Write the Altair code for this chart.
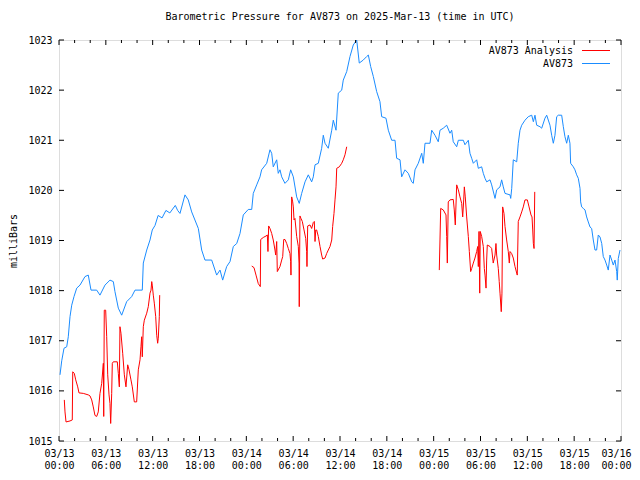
import altair as alt
import pandas as pd

# ---------------- data (hours after 2025-03-13 00:00 UTC, millibars) ----------------
blue_t = [0.13,0.35,0.64,0.99,1.19,1.41,1.63,1.92,2.27,2.69,
          3.33,3.75,4.10,4.83,5.25,5.89,6.53,6.96,7.17,7.60,
          8.03,8.67,9.31,9.74,10.67,10.80,11.24,11.66,11.95,12.3,
          12.7,13.2,13.7,14.2,14.9,15.2,15.50,16.14,16.56,17.0,
          17.85,18.28,18.70,19.56,20.2,20.63,20.97,21.48,21.91,22.33,
          22.77,23.19,23.61,24.25,24.69,24.89,25.33,25.75,25.96,26.61,
          27.03,27.25,27.45,27.89,28.09,28.31,28.53,28.95,29.38,29.68,
          30.02,30.45,30.78,31.09,31.52,31.94,32.37,32.58,32.80,33.22,
          33.65,33.86,34.08,34.50,34.94,35.14,35.49,35.78,36.22,36.42,
          36.86,37.28,37.70,38.14,38.47,38.98,39.42,39.63,39.93,40.27,
          40.70,41.12,41.34,41.89,42.19,42.62,43.05,43.26,43.69,43.90,
          44.33,44.75,45.19,45.39,45.61,46.03,46.47,46.67,46.89,47.53,
          47.75,48.17,48.59,48.81,49.23,49.67,50.09,50.31,50.51,50.95,
          51.16,51.80,52.01,52.44,52.65,52.87,53.08,53.51,53.72,54.15,
          54.36,54.58,54.79,55.22,55.43,55.86,56.07,56.50,56.71,56.92,
          57.14,57.78,57.87,58.0,58.20,58.64,58.84,59.06,59.28,59.70,
          60.12,60.56,60.77,60.98,61.20,61.62,61.84,62.26,62.48,62.90,
          63.12,63.33,63.54,63.76,63.97,64.40,64.61,64.82,65.04,65.25,
          65.46,65.55,65.89,66.10,66.32,66.53,66.75,66.83,66.96,67.17,
          67.39,67.60,67.81,68.03,68.24,68.45,68.67,68.88,69.09,69.31,
          69.53,69.73,69.95,70.17,70.37,70.59,70.81,71.01,71.23,71.45,
          71.52,71.65,71.87]
blue_p = [1016.32,1016.6,1016.85,1016.88,1017.08,1017.48,1017.71,1017.88,1018.05,1018.11,
          1018.28,1018.31,1018.01,1018.01,1017.91,1018.11,1018.21,1018.18,1017.98,1017.65,
          1017.51,1017.78,1017.88,1018.01,1018.01,1018.55,1018.81,1019.01,1019.21,1019.3,
          1019.5,1019.45,1019.6,1019.55,1019.7,1019.6,1019.54,1019.91,1019.81,1019.57,
          1019.24,1018.81,1018.61,1018.61,1018.31,1018.41,1018.21,1018.48,1018.58,1018.88,
          1018.94,1019.14,1019.51,1019.62,1019.62,1019.94,1020.11,1020.27,1020.41,1020.54,
          1020.81,1020.74,1020.47,1020.61,1020.34,1020.41,1020.27,1020.14,1020.21,1020.41,
          1020.27,1019.87,1019.74,1019.94,1020.17,1020.31,1020.17,1020.27,1020.51,1020.54,
          1020.84,1021.10,1020.94,1020.84,1021.20,1021.40,1021.20,1021.94,1022.0,1022.20,
          1022.37,1022.67,1022.90,1023.0,1022.54,1022.60,1022.67,1022.70,1022.47,1022.27,
          1021.97,1021.77,1021.47,1021.44,1021.20,1021.00,1021.00,1020.64,1020.61,1020.27,
          1020.41,1020.34,1020.17,1020.14,1020.41,1020.54,1020.74,1020.54,1020.94,1020.94,
          1021.20,1021.10,1020.97,1021.20,1021.24,1021.30,1021.14,1021.20,1020.97,1020.87,
          1021.0,1021.0,1020.91,1021.0,1020.74,1020.64,1020.54,1020.61,1020.44,1020.47,
          1020.34,1020.24,1020.17,1020.21,1020.11,1019.84,1020.01,1020.07,1020.21,1020.07,
          1019.94,1019.91,1019.84,1020.04,1020.61,1020.57,1020.94,1021.20,1021.30,1021.40,
          1021.47,1021.50,1021.37,1021.50,1021.30,1021.27,1021.24,1021.44,1021.50,1021.30,
          1021.10,1020.94,1021.10,1021.47,1021.50,1021.50,1021.27,1021.07,1020.94,1021.10,
          1020.94,1020.54,1020.47,1020.41,1020.31,1020.24,1020.04,1019.77,1019.67,1019.64,
          1019.61,1019.47,1019.37,1019.27,1019.24,1019.01,1018.81,1018.81,1019.11,1019.07,
          1018.94,1018.68,1018.61,1018.51,1018.41,1018.71,1018.61,1018.51,1018.61,1018.38,
          1018.21,1018.64,1018.81]

red_seg1 = [(0.68,1015.82),(0.77,1015.58),(0.90,1015.38),(1.41,1015.40),(1.70,1015.42),
            (1.76,1016.38),(1.96,1016.35),(2.14,1016.22),(2.40,1016.08),(2.56,1015.96),
            (3.11,1015.95),(3.75,1015.92),(3.97,1015.90),(4.19,1015.82),(4.39,1015.68),
            (4.61,1015.51),(4.83,1015.49),(5.03,1015.58),(5.25,1015.95),(5.47,1016.15),
            (5.68,1016.55),(5.73,1015.49),(5.80,1017.61),(5.98,1017.61),(6.11,1017.08),
            (6.24,1016.32),(6.41,1015.92),(6.53,1015.75),(6.62,1015.35),(6.75,1015.95),
            (6.83,1016.55),(6.96,1016.58),(7.47,1016.58),(7.60,1016.35),(7.73,1016.08),
            (7.81,1017.28),(7.94,1017.15),(8.16,1016.75),(8.37,1016.32),(8.58,1016.08),
            (8.80,1016.52),(8.97,1016.42),(9.22,1016.22),(9.39,1016.08),(9.65,1015.78),
            (9.95,1015.78),(10.16,1016.42),(10.38,1016.62),(10.50,1016.88),(10.59,1017.08),
            (10.67,1016.68),(10.80,1017.28),(10.93,1017.41),(11.24,1017.55),(11.44,1017.68),
            (11.66,1017.95),(11.79,1018.01),(11.88,1018.18),(11.95,1018.11),(12.08,1017.91),
            (12.21,1017.75),(12.39,1017.48),(12.52,1017.11),(12.64,1016.95),(12.72,1017.05),
            (12.85,1017.48),(12.90,1017.91)]
red_seg2 = [(24.69,1018.49),(24.98,1018.46),(25.24,1018.31),(25.53,1018.14),(25.79,1018.08),
            (25.84,1019.02),(26.17,1019.06),(26.52,1019.09),(26.69,1019.11),(26.77,1018.78),
            (26.86,1019.29),(27.03,1019.24),(27.25,1019.14),(27.45,1019.01),(27.67,1018.81),
            (27.76,1018.71),(27.89,1018.98),(27.97,1018.38),(28.31,1018.48),(28.53,1018.61),
            (28.66,1018.68),(28.79,1019.02),(28.95,1019.02),(29.17,1018.94),(29.38,1018.84),
            (29.59,1018.74),(29.68,1018.58),(29.72,1018.31),(29.81,1019.87),(29.94,1019.77),
            (30.02,1019.67),(30.11,1019.41),(30.23,1019.44),(30.45,1019.08),(30.66,1018.88),
            (30.75,1018.55),(30.78,1017.68),(30.87,1019.49),(31.00,1019.44),(31.17,1019.38),
            (31.39,1019.21),(31.61,1019.04),(31.73,1018.78),(31.77,1018.48),(31.86,1019.29),
            (32.16,1019.31),(32.37,1019.24),(32.58,1019.36),(32.71,1019.38),(32.80,1018.98),
            (32.89,1019.21),(33.01,1019.21),(33.22,1019.08),(33.44,1018.88),(33.65,1018.71),
            (33.78,1018.63),(34.08,1018.65),(34.29,1018.74),(34.50,1018.81),(34.72,1018.88),
            (34.94,1019.01),(35.06,1019.28),(35.23,1019.54),(35.36,1019.81),(35.49,1020.07),
            (35.58,1020.44),(35.91,1020.47),(36.22,1020.54),(36.42,1020.61),(36.64,1020.71),
            (36.86,1020.87)]
red_seg3 = [(48.72,1018.41),(48.81,1019.01),(48.90,1019.64),(49.23,1019.61),(49.58,1019.51),
            (49.67,1019.08),(49.75,1018.55),(49.87,1019.77),(50.09,1019.81),(50.51,1019.82),
            (50.64,1019.61),(50.77,1019.31),(50.95,1020.11),(51.16,1020.01),(51.37,1019.87),
            (51.59,1019.74),(51.72,1019.47),(51.85,1019.81),(51.93,1020.07),(52.05,1019.87),
            (52.23,1019.47),(52.44,1019.08),(52.57,1018.78),(52.74,1018.38),(52.87,1018.44),
            (53.08,1018.55),(53.29,1018.65),(53.51,1018.78),(53.64,1018.88),(53.72,1018.48),
            (53.81,1019.18),(53.90,1017.95),(53.97,1019.18),(54.15,1019.08),(54.36,1018.88),
            (54.49,1018.44),(54.58,1018.31),(54.71,1018.05),(54.79,1018.61),(54.87,1018.91),
            (55.22,1018.88),(55.43,1018.84),(55.63,1018.55),(55.86,1018.71),(55.98,1018.94),
            (56.07,1018.71),(56.28,1018.44),(56.40,1018.18),(56.50,1017.95),(56.66,1017.58),
            (56.75,1017.95),(56.84,1019.67),(57.01,1019.54),(57.14,1019.28),(57.35,1019.01),
            (57.56,1018.78),(57.69,1018.55),(57.78,1018.78),(57.99,1018.74),(58.20,1018.65),
            (58.42,1018.48),(58.64,1018.35),(58.71,1018.31),(58.84,1019.38),(59.06,1019.47),
            (59.28,1019.57),(59.48,1019.67),(59.70,1019.81),(60.00,1019.81),(60.22,1019.67),
            (60.47,1019.51),(60.60,1019.47),(60.69,1019.21),(60.77,1018.94),(60.86,1018.84),
            (60.95,1019.97)]

series_names = ["AV873 Analysis", "AV873"]
series_colors = ["#ff0000", "#1a8cff"]

major_hours = [0, 6, 12, 18, 24, 30, 36, 42, 48, 54, 60, 66, 72]
minor_hours = [2, 4, 8, 10, 14, 16, 20, 22, 26, 28, 32, 34, 38, 40, 44, 46, 50, 52, 56, 58, 62, 64, 68, 70]
tick_dates = ["03/13", "03/13", "03/13", "03/13", "03/14", "03/14", "03/14", "03/14",
              "03/15", "03/15", "03/15", "03/15", "03/16"]
tick_times = ["00:00", "06:00", "12:00", "18:00", "00:00", "06:00", "12:00", "18:00",
              "00:00", "06:00", "12:00", "18:00", "00:00"]
y_ticks = [1015, 1016, 1017, 1018, 1019, 1020, 1021, 1022, 1023]

title_text = "Barometric Pressure for AV873 on 2025-Mar-13 (time in UTC)"

# ---------------- build ----------------
W, H = 562, 401
FONT = "DejaVu Sans Mono"
FS = 10

rows = []
for t, p in zip(blue_t, blue_p):
    rows.append({"hour": t, "mb": p, "series": series_names[1], "seg": "b"})
for i, seg in enumerate([red_seg1, red_seg2, red_seg3]):
    for t, p in seg:
        rows.append({"hour": t, "mb": p, "series": series_names[0], "seg": f"r{i}"})
df = pd.DataFrame(rows)

xscale = alt.Scale(domain=[0, 72], nice=False, zero=False)
yscale = alt.Scale(domain=[1015, 1023], nice=False, zero=False)

label_expr = "[" + ",".join(f"['{d}','{t}']" for d, t in zip(tick_dates, tick_times)) + "][round(datum.value/6)]"

x_axis = alt.Axis(values=major_hours, labelExpr=label_expr, ticks=False, tickSize=0,
                  domain=False, grid=False, title=None, labelFont=FONT, labelFontSize=FS,
                  labelColor="black", labelPadding=7, labelLineHeight=12, labelAngle=0,
                  labelOverlap=False, labelFlush=False, labelBound=False,
                  labelOffset={"condition": {"test": f"datum.value >= {major_hours[-1]}", "value": -5},
                               "value": 0})
y_axis = alt.Axis(values=y_ticks, format="d", ticks=False, tickSize=0, domain=False,
                  grid=False, title="milliBars", titleFont=FONT, titleFontSize=FS,
                  titleFontWeight="normal", titleColor="black", titlePadding=9,
                  labelFont=FONT, labelFontSize=FS, labelColor="black", labelPadding=7,
                  labelFlush=False)

lines = alt.Chart(df).mark_line(strokeWidth=1, clip=True).encode(
    x=alt.X("hour:Q", scale=xscale, axis=x_axis),
    y=alt.Y("mb:Q", scale=yscale, axis=y_axis),
    color=alt.Color("series:N", scale=alt.Scale(domain=series_names, range=series_colors), legend=None),
    detail="seg:N",
)

major_df = pd.DataFrame({"hour": major_hours})
minor_df = pd.DataFrame({"hour": minor_hours})
y_df = pd.DataFrame({"mb": y_ticks})


def xticks(data, y1, y2):
    return alt.Chart(data).mark_rule(color="black", strokeWidth=1).encode(
        x=alt.X("hour:Q", scale=xscale, axis=x_axis), y=alt.value(y1), y2=alt.value(y2))


def yticks(x1, x2):
    return alt.Chart(y_df).mark_rule(color="black", strokeWidth=1).encode(
        y=alt.Y("mb:Q", scale=yscale, axis=y_axis), x=alt.value(x1), x2=alt.value(x2))


layers = [lines,
          xticks(major_df, H, H - 5), xticks(major_df, 0, 5),
          xticks(minor_df, H, H - 3), xticks(minor_df, 0, 3),
          yticks(0, 5), yticks(W, W - 5)]

for i, (name, color) in enumerate(zip(series_names, series_colors)):
    ld = pd.DataFrame({"name": [name]})
    layers.append(alt.Chart(ld).mark_text(align="right", baseline="middle", font=FONT,
                                          fontSize=FS, color="black").encode(
        text="name:N", x=alt.value(514), y=alt.value(10.5 + 13 * i)))
    layers.append(alt.Chart(ld).mark_rule(color=color, strokeWidth=1).encode(
        x=alt.value(523), x2=alt.value(551), y=alt.value(10.5 + 13 * i)))

chart = alt.layer(*layers).properties(
    width=W, height=H,
    title=alt.TitleParams(text=title_text, font=FONT, fontSize=FS, fontWeight="normal",
                          color="black", anchor="middle", offset=13),
    padding={"left": 51, "top": 32, "right": 11, "bottom": 29},
    autosize=alt.AutoSizeParams(type="none"),
).configure_view(stroke="black", strokeWidth=1).configure(background="white")

chart.save("out.html", embed_options={"renderer": "svg", "actions": False})
